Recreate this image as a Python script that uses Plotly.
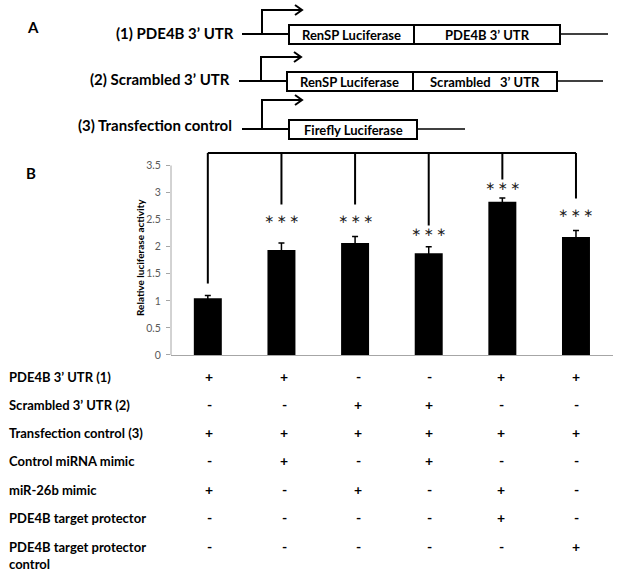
import plotly.graph_objects as go

# ---------------- data ----------------
groups = ["G1", "G2", "G3", "G4", "G5", "G6"]
activity = [1.05, 1.94, 2.07, 1.88, 2.83, 2.18]
activity_err = [0.05, 0.13, 0.12, 0.12, 0.07, 0.12]
significance = ["", "***", "***", "***", "***", "***"]
y_ticks = [0, 0.5, 1, 1.5, 2, 2.5, 3, 3.5]
y_tick_labels = ["0", "0.5", "1", "1.5", "2", "2.5", "3", "3.5"]
y_title = "Relative luciferase activity"

table_rows = [
    "PDE4B 3\u2019 UTR (1)",
    "Scrambled 3\u2019 UTR (2)",
    "Transfection control (3)",
    "Control miRNA mimic",
    "miR-26b mimic",
    "PDE4B target protector",
    "PDE4B target protector<br>control",
]
table_signs = [
    ["+", "+", "-", "-", "+", "+"],
    ["-", "-", "+", "+", "-", "-"],
    ["+", "+", "+", "+", "+", "+"],
    ["-", "+", "-", "+", "-", "-"],
    ["+", "-", "+", "-", "+", "-"],
    ["-", "-", "-", "-", "+", "-"],
    ["-", "-", "-", "-", "-", "+"],
]

constructs = ["(1) PDE4B 3\u2019 UTR", "(2) Scrambled 3\u2019 UTR", "(3) Transfection control"]
construct_parts = [
    ["RenSP Luciferase", "PDE4B 3\u2019 UTR"],
    ["RenSP Luciferase", "Scrambled \u00a0 3\u2019 UTR"],
    ["Firefly Luciferase"],
]

# ---------------- layout helpers (pixel -> paper) ----------------
W, H = 621, 579
FONT = "Lato"


def X(px):
    return px / W


def Y(py):
    return 1 - py / H


PLOT_L, PLOT_R = 171, 612.8
Y0_PX, Y35_PX = 355, 165.5
PX_PER_UNIT = (Y0_PX - Y35_PX) / 3.5
Y_MAX = 3.8
PLOT_T = Y0_PX - Y_MAX * PX_PER_UNIT


def ann(x, y, text, size, family=FONT, xanchor="center", yanchor="middle", color="black", **kw):
    d = dict(x=x, y=y, xref="paper", yref="paper", text=text, showarrow=False,
             xanchor=xanchor, yanchor=yanchor, font=dict(family=family, size=size, color=color))
    d.update(kw)
    return d


fig = go.Figure()
xs = list(range(len(groups)))
fig.add_trace(go.Bar(
    x=xs, y=activity, width=0.38,
    marker=dict(color="black", line=dict(width=0)),
    error_y=dict(type="data", array=activity_err, color="black", thickness=1.5, width=3),
    hoverinfo="skip",
))

shapes = []
annotations = []

# y axis line (stops at 3.5)
shapes.append(dict(type="line", xref="paper", yref="y", x0=X(PLOT_L), x1=X(PLOT_L),
                   y0=0, y1=y_ticks[-1], line=dict(color="#a6a6a6", width=1)))

# significance bracket
bracket_top = 3.73
star_levels = [None, 2.52, 2.52, 2.28, 3.13, 2.63]
drop_levels = [1.32, 2.78, 2.78, 2.39, 3.24, 2.89]
shapes.append(dict(type="line", xref="x", yref="y", x0=xs[0], x1=xs[-1], y0=bracket_top, y1=bracket_top,
                   line=dict(color="black", width=2)))
for i in xs:
    shapes.append(dict(type="line", xref="x", yref="y", x0=i, x1=i, y0=bracket_top, y1=drop_levels[i],
                       line=dict(color="black", width=2)))
    if significance[i]:
        annotations.append(dict(x=i, y=star_levels[i], xref="x", yref="y",
                                text="\u2217\u2009\u2217\u2009\u2217",
                                showarrow=False, xanchor="center", yanchor="middle",
                                font=dict(family="DejaVu Sans", size=12, color="#222222")))

# y title
annotations.append(ann(X(140), Y(258), "<b>" + y_title + "</b>", 10, textangle=-90))

# panel labels
annotations.append(ann(X(33), Y(27), "<b>A</b>", 15))
annotations.append(ann(X(31), Y(173), "<b>B</b>", 15))

# table
row_y = [376, 404, 432, 460, 489, 517, 546]
col_x = [209, 284, 358, 429, 501, 576]
for r, label in enumerate(table_rows):
    annotations.append(ann(X(7), Y(row_y[r] - 9), "<b>" + label + "</b>", 13, xanchor="left",
                           yanchor="top", align="left"))
    for c, s in enumerate(table_signs[r]):
        annotations.append(ann(X(col_x[c]), Y(row_y[r]), "<b>" + s + "</b>", 14))

# construct diagrams (panel A)
rows_geom = [
    dict(ly=34, lab_r=236, lab_y=33, line_l=242, vx=262, top=10, box_l=289, box_r=560, div=414, bt=25, bb=44, end=608),
    dict(ly=81, lab_r=232, lab_y=79, line_l=239, vx=261, top=57, box_l=287, box_r=557, div=413, bt=72, bb=91, end=603),
    dict(ly=129, lab_r=234, lab_y=125, line_l=242, vx=262, top=100, box_l=289, box_r=417, div=None, bt=120, bb=139, end=465),
]
for k, g in enumerate(rows_geom):
    annotations.append(ann(X(g["lab_r"]), Y(g["lab_y"]), "<b>" + constructs[k] + "</b>", 15, xanchor="right"))
    lk = dict(color="black", width=2)
    shapes.append(dict(type="line", xref="paper", yref="paper", x0=X(g["line_l"]), x1=X(g["box_l"]),
                       y0=Y(g["ly"]), y1=Y(g["ly"]), line=lk))
    shapes.append(dict(type="line", xref="paper", yref="paper", x0=X(g["box_r"]), x1=X(g["end"]),
                       y0=Y(g["ly"]), y1=Y(g["ly"]), line=dict(color="black", width=1.5)))
    path = "M %f,%f L %f,%f L %f,%f" % (X(g["vx"]), Y(g["ly"]), X(g["vx"]), Y(g["top"]), X(g["vx"] + 40), Y(g["top"]))
    shapes.append(dict(type="path", xref="paper", yref="paper", path=path, line=lk))
    head = "M %f,%f L %f,%f L %f,%f" % (X(g["vx"] + 33), Y(g["top"] - 5), X(g["vx"] + 40), Y(g["top"]),
                                         X(g["vx"] + 33), Y(g["top"] + 5))
    shapes.append(dict(type="path", xref="paper", yref="paper", path=head, line=lk))
    shapes.append(dict(type="rect", xref="paper", yref="paper", x0=X(g["box_l"]), x1=X(g["box_r"]),
                       y0=Y(g["bb"]), y1=Y(g["bt"]), line=lk, fillcolor="white"))
    parts = construct_parts[k]
    if g["div"] is not None:
        shapes.append(dict(type="line", xref="paper", yref="paper", x0=X(g["div"]), x1=X(g["div"]),
                           y0=Y(g["bb"]), y1=Y(g["bt"]), line=lk))
        segs = [(g["box_l"], g["div"]), (g["div"], g["box_r"])]
    else:
        segs = [(g["box_l"], g["box_r"])]
    for (a, b), t in zip(segs, parts):
        annotations.append(ann(X((a + b) / 2), Y((g["bt"] + g["bb"]) / 2 + 0.5), "<b>" + t + "</b>", 13))

fig.update_layout(
    width=W, height=H,
    margin=dict(l=0, r=0, t=0, b=0),
    paper_bgcolor="white", plot_bgcolor="white",
    showlegend=False,
    xaxis=dict(domain=[X(PLOT_L), X(PLOT_R)], range=[-0.5, 5.5], showline=True, linecolor="#a6a6a6",
               linewidth=1, showticklabels=False, ticks="", showgrid=False, zeroline=False, automargin=False,
               fixedrange=True),
    yaxis=dict(domain=[Y(Y0_PX), Y(PLOT_T)], range=[0, Y_MAX], tickvals=y_ticks, ticktext=y_tick_labels,
               ticks="outside", ticklen=4, tickcolor="#a6a6a6", showline=False, showgrid=False,
               zeroline=False, automargin=False, tickfont=dict(family=FONT, size=10.5, color="#595959"),
               ticklabelstandoff=3, fixedrange=True),
    shapes=shapes,
    annotations=annotations,
)

fig.write_html("out.html", config={"displayModeBar": False},
               post_script="document.body.style.margin='0px';document.body.style.overflow='hidden';")
